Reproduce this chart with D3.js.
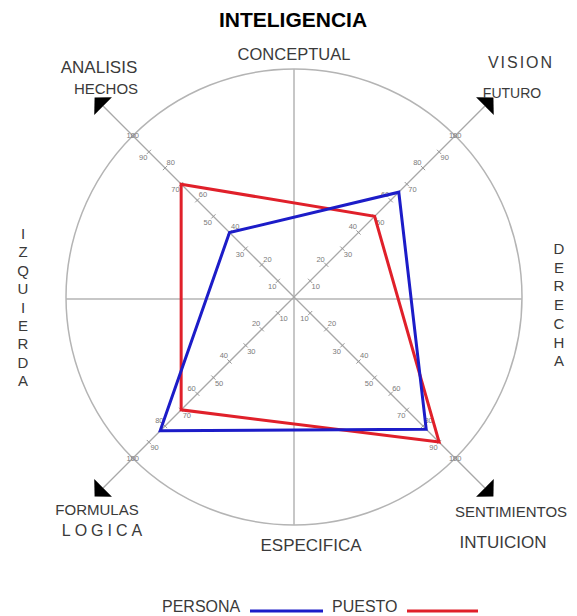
<!DOCTYPE html>
<html>
<head>
  <meta charset="utf-8">
  <script src="https://d3js.org/d3.v7.min.js"></script>
  <title>Inteligencia</title>
  <style>
    body { margin: 0; background: #fff; }
    text { font-family: "Liberation Sans", Arial, sans-serif; fill: #3a3a3a; }
    .tick-label { font-size: 7.5px; fill: #7a7a7a; }
  </style>
</head>
<body>
<div id="chart"></div>
<script>

// axis names (top-left, top-right, bottom-right, bottom-left) and values
var axesNames = ["ANALISIS HECHOS", "VISION FUTURO", "SENTIMIENTOS INTUICION", "FORMULAS LOGICA"];
var persona = [40, 65, 82, 83];
var puesto = [70, 50, 90, 70];
var tickValues = [10, 20, 30, 40, 50, 60, 70, 80, 90, 100];

var width = 577, height = 616;
var cx = 294, cy = 297, R = 228;

var svg = d3.select("#chart").append("svg")
  .attr("width", width)
  .attr("height", height);

var r = d3.scaleLinear().domain([0, 100]).range([0, R]);
// angle measured clockwise from 12 o'clock
var angle = function(name) { return -Math.PI / 4 + axesNames.indexOf(name) * Math.PI / 2; };

var g = svg.append("g").attr("transform", "translate(" + cx + "," + cy + ")");

function px(a, d) { return Math.sin(a) * d; }
function py(a, d) { return -Math.cos(a) * d; }

// outer circle and cross
g.append("circle").attr("r", r(100)).attr("fill", "none").attr("stroke", "#b4b4b4").attr("stroke-width", 1.5);
g.append("line").attr("x1", -r(100)).attr("x2", r(100)).attr("y1", 2).attr("y2", 2)
  .attr("stroke", "#b4b4b4").attr("stroke-width", 1.5);
g.append("line").attr("y1", -r(100)).attr("y2", r(100)).attr("x1", 0).attr("x2", 0)
  .attr("stroke", "#b4b4b4").attr("stroke-width", 1.5);

// diagonal axes with ticks and arrows
axesNames.forEach(function(name, i) {
  var a = angle(name);
  var tipR = 282, baseR = 270, half = 12.5;
  g.append("line")
    .attr("x1", 0).attr("y1", 0)
    .attr("x2", px(a, baseR)).attr("y2", py(a, baseR))
    .attr("stroke", "#a8a8a8").attr("stroke-width", 1.3);

  var pa = a + Math.PI / 2;
  var tri = [
    [px(a, tipR), py(a, tipR)],
    [px(a, baseR) + px(pa, half), py(a, baseR) + py(pa, half)],
    [px(a, baseR) - px(pa, half), py(a, baseR) - py(pa, half)]
  ];
  g.append("path").attr("d", d3.line()(tri) + "Z").attr("fill", "#000");

  tickValues.forEach(function(t) {
    var d = r(t);
    g.append("line")
      .attr("x1", px(a, d) + px(pa, 3)).attr("y1", py(a, d) + py(pa, 3))
      .attr("x2", px(a, d) - px(pa, 3)).attr("y2", py(a, d) - py(pa, 3))
      .attr("stroke", "#999").attr("stroke-width", 1);
    var side = (t / 10) % 2 === 0 ? 1 : -1;
    if (i === 1 || i === 2) side = -side;
    var off = t === 100 ? 0 : 8;
    g.append("text").attr("class", "tick-label")
      .attr("x", px(a, d) + side * px(pa, off))
      .attr("y", py(a, d) + side * py(pa, off) + 2.5)
      .attr("text-anchor", "middle")
      .text(t);
  });
});

// data polygons
var radial = d3.lineRadial()
  .angle(function(d, i) { return angle(axesNames[i]); })
  .radius(function(d) { return r(d); })
  .curve(d3.curveLinearClosed);

g.append("path").datum(puesto).attr("d", radial)
  .attr("fill", "none").attr("stroke", "#e0202a").attr("stroke-width", 3).attr("stroke-linejoin", "miter");
g.append("path").datum(persona).attr("d", radial)
  .attr("fill", "none").attr("stroke", "#1c1cc8").attr("stroke-width", 3).attr("stroke-linejoin", "miter");

// labels
function label(txt, x, y, size, opts) {
  opts = opts || {};
  var t = svg.append("text").attr("x", x).attr("y", y)
    .attr("text-anchor", "middle")
    .style("font-size", size + "px")
    .text(txt);
  if (opts.bold) t.style("font-weight", "bold").style("fill", "#000");
  if (opts.spacing) t.style("letter-spacing", opts.spacing + "px");
  return t;
}

label("INTELIGENCIA", 293, 27, 21, {bold: true});
label("CONCEPTUAL", 294, 60, 16.5);
label("ESPECIFICA", 311, 551, 17);
label("ANALISIS", 99, 73, 17);
label("HECHOS", 106, 94, 15);
label("VISION", 521, 68, 16, {spacing: 2});
label("FUTURO", 512, 98, 14);
label("FORMULAS", 97, 515, 15);
label("LOGICA", 104, 536, 16, {spacing: 4});
label("SENTIMIENTOS", 511, 517, 15);
label("INTUICION", 503, 548, 17);

"IZQUIERDA".split("").forEach(function(ch, i) {
  label(ch, 23, 239 + i * 18.4, 15);
});
"DERECHA".split("").forEach(function(ch, i) {
  label(ch, 559, 254 + i * 18.7, 15);
});

// legend
var legend = [
  {name: "PERSONA", color: "#1c1cc8", x: 162, x1: 250, x2: 323},
  {name: "PUESTO", color: "#e0202a", x: 332, x1: 407, x2: 478}
];
legend.forEach(function(l) {
  svg.append("text").attr("x", l.x).attr("y", 612).style("font-size", "16px").text(l.name);
  svg.append("line").attr("x1", l.x1).attr("x2", l.x2).attr("y1", 611).attr("y2", 611)
    .attr("stroke", l.color).attr("stroke-width", 3);
});

</script>
</body>
</html>
